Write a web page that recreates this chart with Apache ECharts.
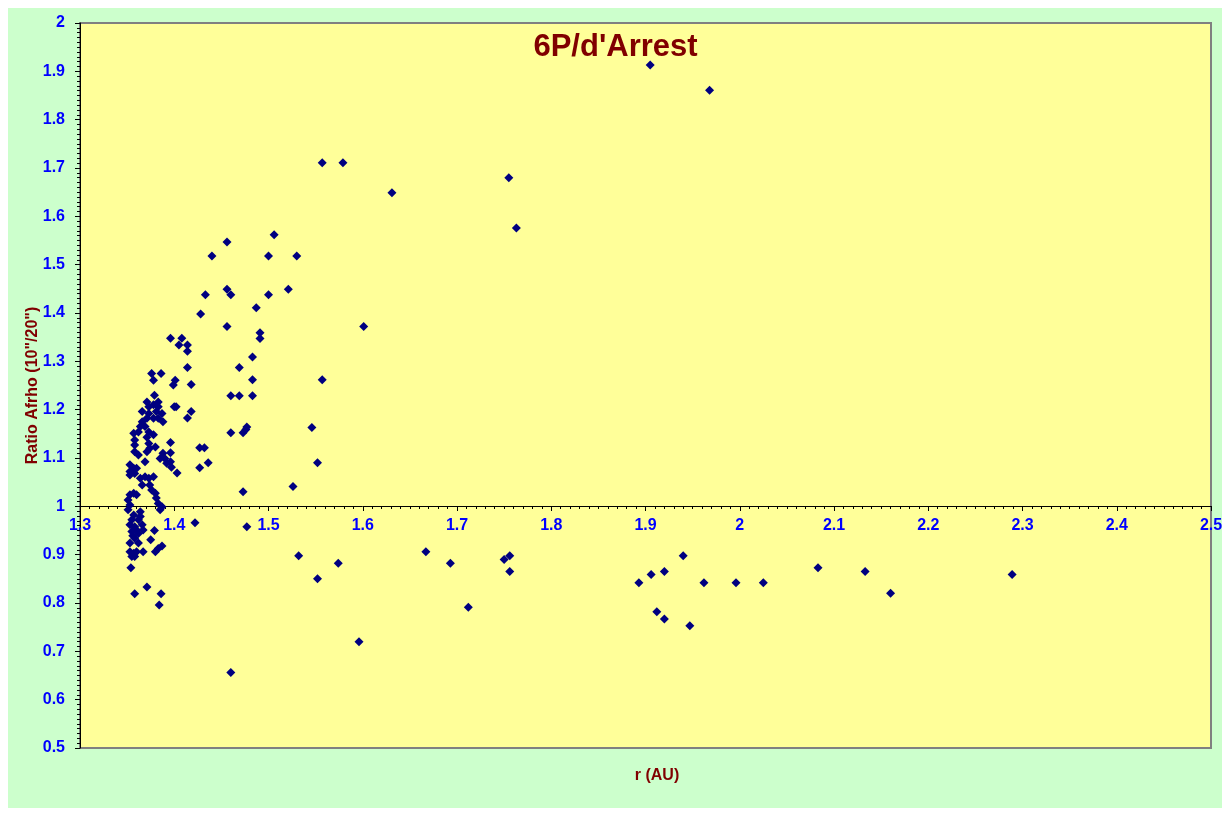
<!DOCTYPE html>
<html>
<head>
<meta charset="utf-8">
<script src="https://cdn.jsdelivr.net/npm/echarts@6/dist/echarts.min.js"></script>
<style>
html,body{margin:0;padding:0;background:#fff;}
#chart{width:1231px;height:813px;}
</style>
</head>
<body>
<div id="chart"></div>
<script>
// r (AU) values
const rAU = [
  1.376,1.386,1.378,1.401,1.399,1.418,1.414,1.396,1.408,1.405,1.414,1.414,
  1.379,1.371,1.383,1.373,1.378,1.383,1.366,1.373,1.381,1.387,1.371,1.378,
  1.383,1.388,1.366,1.364,1.369,1.357,1.362,1.373,1.378,1.400,1.402,1.418,
  1.414,1.358,1.371,1.358,1.373,1.380,1.358,1.362,1.371,1.374,1.396,1.388,
  1.396,1.385,1.390,1.392,1.396,1.397,1.403,1.369,1.353,1.357,1.360,1.353,
  1.353,1.358,1.364,1.369,1.373,1.378,1.366,1.374,1.376,1.380,1.381,1.383,
  1.387,1.353,1.357,1.360,1.351,1.353,1.351,1.364,1.385,1.355,1.362,1.353,
  1.358,1.366,1.355,1.362,1.367,1.358,1.379,1.375,1.353,1.362,1.353,1.357,
  1.360,1.367,1.358,1.355,1.380,1.383,1.387,1.354,1.371,1.358,1.386,1.384,
  1.422,1.357,1.364,1.360,1.356,
  1.506,1.456,1.440,1.500,1.530,1.456,1.460,1.433,1.500,1.521,1.487,1.428,
  1.456,1.601,1.491,1.491,1.483,1.469,1.483,1.557,1.460,1.469,1.483,1.460,
  1.473,1.476,1.477,1.546,1.427,1.432,1.552,1.427,1.436,1.526,1.473,
  1.905,1.968,1.557,1.579,1.631,1.755,1.763,
  1.477,1.460,1.532,1.552,1.574,1.596,1.667,1.693,1.712,1.750,1.756,1.756,
  1.893,1.906,1.920,1.940,1.912,1.920,1.947,1.962,1.996,2.025,2.083,2.133,
  2.160,2.289
];
// Ratio Afrho (10"/20") values
const ratio = [
  1.275,1.275,1.261,1.261,1.251,1.252,1.287,1.348,1.348,1.334,1.334,1.321,
  1.230,1.216,1.216,1.206,1.210,1.206,1.196,1.192,1.196,1.192,1.182,1.182,
  1.182,1.175,1.175,1.165,1.165,1.151,1.154,1.154,1.148,1.206,1.206,1.196,
  1.183,1.137,1.143,1.127,1.130,1.123,1.113,1.106,1.113,1.120,1.132,1.110,
  1.111,1.099,1.099,1.089,1.092,1.081,1.069,1.092,1.086,1.079,1.079,1.072,
  1.065,1.068,1.058,1.061,1.058,1.061,1.044,1.044,1.034,1.027,1.017,1.006,
  0.999,1.024,1.027,1.024,1.013,1.003,0.993,0.989,0.993,0.972,0.972,0.962,
  0.958,0.962,0.948,0.944,0.951,0.934,0.950,0.931,0.924,0.924,0.906,0.903,
  0.906,0.906,0.896,0.896,0.906,0.913,0.918,0.873,0.833,0.819,0.819,0.796,
  0.966,0.982,0.979,0.951,0.939,
  1.562,1.547,1.518,1.518,1.518,1.449,1.438,1.438,1.438,1.449,1.411,1.398,
  1.372,1.372,1.359,1.347,1.309,1.287,1.262,1.262,1.229,1.229,1.229,1.152,
  1.152,1.159,1.164,1.163,1.121,1.121,1.090,1.080,1.090,1.041,1.030,
  1.913,1.861,1.711,1.711,1.649,1.680,1.576,
  0.958,0.656,0.898,0.850,0.882,0.720,0.906,0.882,0.791,0.890,0.898,0.865,
  0.842,0.859,0.865,0.898,0.782,0.767,0.753,0.842,0.842,0.842,0.873,0.865,
  0.820,0.859
];

const points = rAU.map((r, i) => [r, ratio[i]]);
const FONT = 'Liberation Sans, Arial, sans-serif';
const chart = echarts.init(document.getElementById('chart'), null, {renderer: 'canvas'});
chart.setOption({
  backgroundColor: '#ffffff',
  animation: false,
  title: {
    text: "6P/d'Arrest",
    left: 'center',
    top: 27,
    textStyle: {color: '#800000', fontSize: 31, fontWeight: 'bold', fontFamily: FONT}
  },
  graphic: [
    {type: 'rect', z: -10, silent: true, shape: {x: 8, y: 8, width: 1214, height: 800}, style: {fill: '#CCFFCC'}},
    {type: 'text', x: 657, y: 776, silent: true,
     style: {text: 'r (AU)', fill: '#800000', font: 'bold 16px ' + FONT, textAlign: 'center', textVerticalAlign: 'middle'}}
  ],
  grid: {
    left: 80, top: 23, right: 20, bottom: 65,
    show: true, backgroundColor: '#FFFF99', borderColor: '#808080', borderWidth: 2
  },
  xAxis: {
    type: 'value', min: 1.3, max: 2.5, interval: 0.1,
    offset: -242,
    axisLine: {show: true, lineStyle: {color: '#000', width: 1}},
    axisTick: {show: true, length: 5, lineStyle: {color: '#000'}},
    minorTick: {show: true, splitNumber: 10, length: 3, lineStyle: {color: '#000'}},
    splitLine: {show: false},
    axisLabel: {color: '#0000FF', fontSize: 16, fontWeight: 'bold', fontFamily: FONT, margin: 12, showMinLabel: true, showMaxLabel: true}
  },
  yAxis: {
    type: 'value', min: 0.5, max: 2, interval: 0.1,
    name: 'Ratio Afrho (10"/20")',
    nameLocation: 'middle', nameGap: 39, nameMoveOverlap: false,
    nameTextStyle: {color: '#800000', fontSize: 16, fontWeight: 'bold', fontFamily: FONT},
    axisLine: {show: true, lineStyle: {color: '#000', width: 1}},
    axisTick: {show: true, length: 5, lineStyle: {color: '#000'}},
    minorTick: {show: true, splitNumber: 10, length: 3, lineStyle: {color: '#000'}},
    splitLine: {show: false},
    axisLabel: {color: '#0000FF', fontSize: 16, fontWeight: 'bold', fontFamily: FONT, margin: 15}
  },
  series: [{
    type: 'scatter',
    symbol: 'diamond',
    symbolSize: 9,
    itemStyle: {color: '#000080', opacity: 1},
    data: points
  }]
});
</script>
</body>
</html>
